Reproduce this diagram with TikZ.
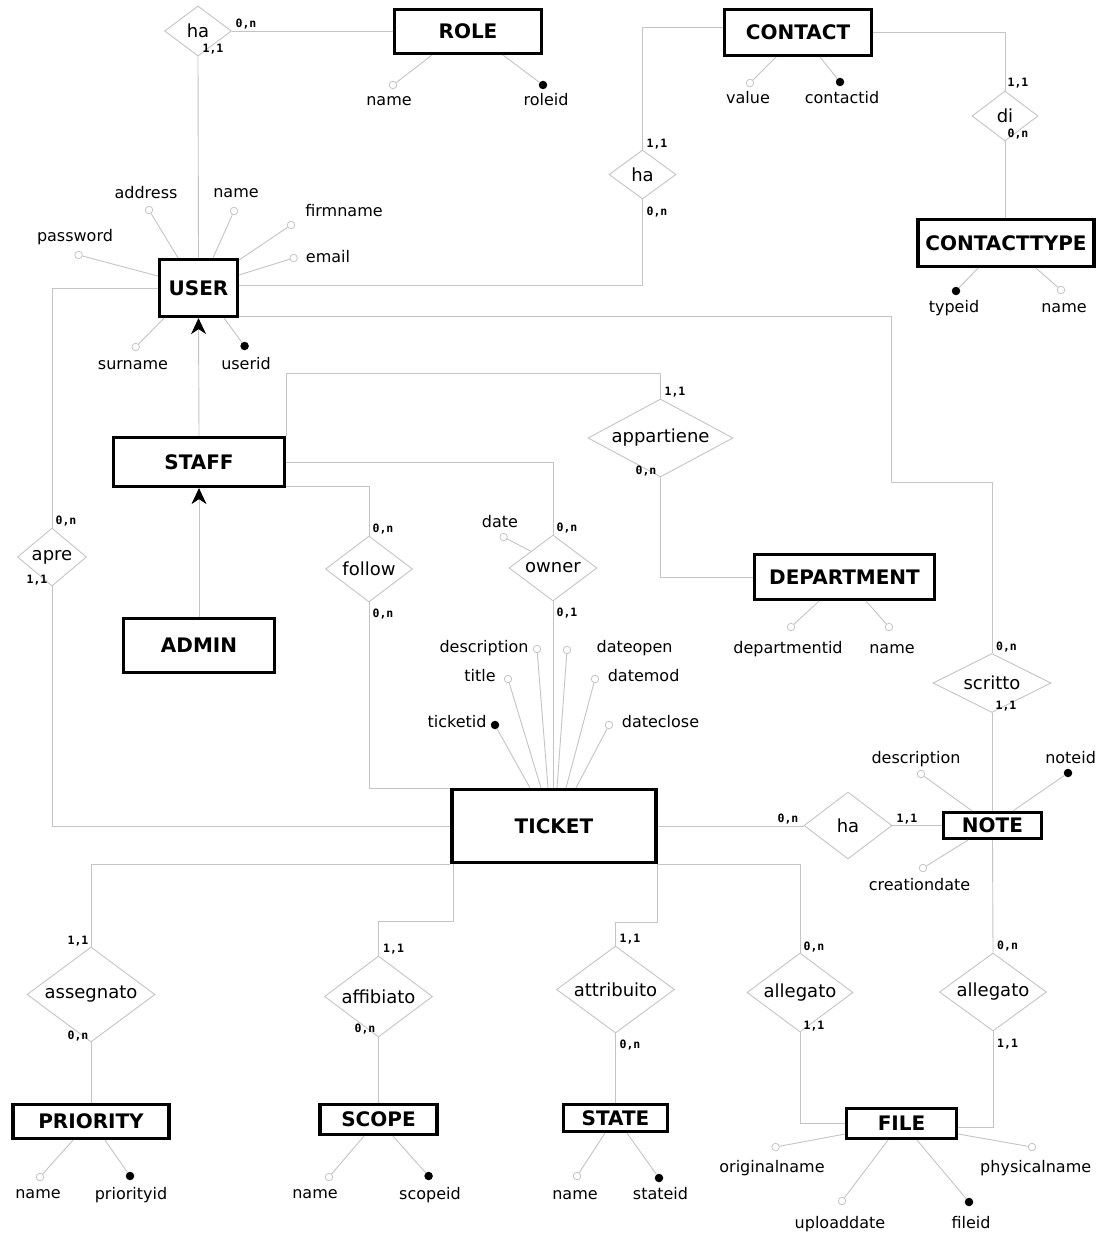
\documentclass[tikz,border=0pt]{standalone}
\usepackage{fontspec}
\setmainfont{DejaVu Sans}
\newfontfamily\cardfont{DejaVu Sans Mono}
\usetikzlibrary{shapes.geometric,arrows.meta}
\definecolor{lg}{RGB}{196,196,196}
\begin{document}
\begin{tikzpicture}[x=1pt,y=-1pt,
 ent/.style={draw=black,line width=3.2pt,fill=white,inner sep=0pt,font=\fontsize{20}{24}\selectfont\bfseries},
 rel/.style={diamond,draw=lg,line width=0.9pt,fill=white,inner sep=0pt,font=\fontsize{18}{22}\selectfont},
 ln/.style={draw=lg,line width=0.9pt},
 oat/.style={circle,draw=lg,fill=white,line width=0.8pt,inner sep=0pt,minimum size=7.5pt},
 kat/.style={circle,fill=black,inner sep=0pt,minimum size=8.5pt},
 lbl/.style={inner sep=0pt,anchor=base,font=\fontsize{16}{19}\selectfont},
 crd/.style={inner sep=0pt,anchor=base,font=\cardfont\bfseries\fontsize{11.5}{13}\selectfont},
 isa/.style={ln,-{Stealth[length=16pt,width=15pt,inset=5pt,color=black]}}
]
\fill[white] (0,0) rectangle (1104,1236);
\useasboundingbox (0,0) rectangle (1104,1236);

% ---------- entities
\node[ent,minimum width=147,minimum height=44] (role) at (468,31.5) {ROLE};
\node[ent,minimum width=147,minimum height=46] (contact) at (798,32.5) {CONTACT};
\node[ent,minimum width=176,minimum height=47] (ctype) at (1006,243) {CONTACTTYPE};
\node[ent,minimum width=78,minimum height=57] (user) at (198.5,288) {USER};
\node[ent,minimum width=171,minimum height=49] (staff) at (199,462) {STAFF};
\node[ent,minimum width=151,minimum height=54] (admin) at (199,645.5) {ADMIN};
\node[ent,minimum width=180,minimum height=45] (dept) at (844.5,577) {DEPARTMENT};
\node[ent,minimum width=204,minimum height=73] (ticket) at (554,826) {TICKET};
\node[ent,minimum width=98,minimum height=26] (note) at (992.5,825.5) {NOTE};
\node[ent,minimum width=156,minimum height=34] (priority) at (91,1121.5) {PRIORITY};
\node[ent,minimum width=117,minimum height=30] (scope) at (378.5,1119.5) {SCOPE};
\node[ent,minimum width=104,minimum height=27] (state) at (615.5,1118) {STATE};
\node[ent,minimum width=110,minimum height=30] (file) at (901.5,1123.5) {FILE};

% ---------- relationships
\node[rel,minimum width=67,minimum height=50,aspect=1.34] (roleha) at (198,31) {ha};
\node[rel,minimum width=67,minimum height=49,aspect=1.37] (contactha) at (642.5,174.5) {ha};
\node[rel,minimum width=66,minimum height=50,aspect=1.32] (di) at (1005,116) {di};
\node[rel,minimum width=69,minimum height=58,aspect=1.19] (apre) at (52,557) {apre};
\node[rel,minimum width=87,minimum height=66,aspect=1.32] (follow) at (369,569) {follow};
\node[rel,minimum width=88,minimum height=66,aspect=1.33] (owner) at (553,568) {owner};
\node[rel,minimum width=145,minimum height=78,aspect=1.86] (appartiene) at (660.5,438) {appartiene};
\node[rel,minimum width=118,minimum height=59,aspect=2] (scritto) at (992,683) {scritto};
\node[rel,minimum width=88,minimum height=67,aspect=1.31] (noteha) at (848,825.5) {ha};
\node[rel,minimum width=106,minimum height=79,aspect=1.34] (allegatoA) at (800,992.5) {allegato};
\node[rel,minimum width=107,minimum height=78,aspect=1.37] (allegatoB) at (993,992) {allegato};
\node[rel,minimum width=118,minimum height=87,aspect=1.36] (attribuito) at (615.5,989.5) {attribuito};
\node[rel,minimum width=108,minimum height=81,aspect=1.33] (affibiato) at (378.5,996.5) {affibiato};
\node[rel,minimum width=128,minimum height=95,aspect=1.35] (assegnato) at (91,994.5) {assegnato};

% ---------- relationship connectors
\draw[ln] (roleha.east) -- (roleha.east -| role.west);
\draw[ln] (roleha.south) -- (user.north);
\draw[ln] ([yshift=5pt]contact.west) -| (contactha.north);
\draw[ln] (contactha.south) |- ([yshift=3pt]user.east);
\draw[ln] (contact.east) -| (di.north);
\draw[ln] (di.south) -- (di.south |- ctype.north);
\coordinate (bendA) at (891,482);
\draw[ln] ([yshift=2pt]user.south east) -| (bendA) -| (scritto.north);
\draw[ln] (user.west) -| (apre.north);
\draw[ln] (apre.south) |- (ticket.west);
\draw[isa] (staff.north) -- (user.south);
\draw[isa] (admin.north) -- (staff.south);
\draw[ln] (staff.north east) |- ([yshift=25pt]appartiene.north) -- (appartiene.north);
\draw[ln] (appartiene.south) |- (dept.west);
\draw[ln] (staff.east) -| (owner.north);
\draw[ln] ([yshift=1.5pt]staff.south east) -| (follow.north);
\draw[ln] (follow.south) |- ([yshift=-1pt]ticket.north west);
\draw[ln] (owner.south) -- (owner.south |- ticket.north);
\draw[ln] (ticket.east) -- (ticket.east -| noteha.west);
\draw[ln] (noteha.east) -- (noteha.east -| note.west);
\draw[ln] (scritto.south) -- (scritto.south |- note.north);
\draw[ln] (note.south) -- (allegatoB.north);
\draw[ln] (allegatoB.south) |- ([yshift=-3.5pt]file.east);
\draw[ln] (ticket.south east) -| (allegatoA.north);
\draw[ln] (allegatoA.south) |- (file.west);
\draw[ln] (ticket.south east) -- ++(0,58) -| (attribuito.north);
\draw[ln] ([xshift=3pt]ticket.south west) -- ++(0,57) -| (affibiato.north);
\draw[ln] (ticket.south west) -| (assegnato.north);
\draw[ln] (assegnato.south) -- (priority.north);
\draw[ln] (affibiato.south) -- (scope.north);
\draw[ln] (attribuito.south) -- (state.north);

% ---------- cardinalities
\node[crd] (k1) at (246,28) {0,n};
\node[crd] (k2) at (213,53) {1,1};
\node[crd] (k3) at (657,147) {1,1};
\node[crd] (k4) at (657,215) {0,n};
\node[crd] (k5) at (1018,87) {1,1};
\node[crd] (k6) at (1018,137) {0,n};
\node[crd] (k7) at (66,524) {0,n};
\node[crd] (k8) at (37,583) {1,1};
\node[crd] (k9) at (383,532) {0,n};
\node[crd] (k10) at (383,617) {0,n};
\node[crd] (k11) at (567,531) {0,n};
\node[crd] (k12) at (567,616) {0,1};
\node[crd] (k13) at (675,395) {1,1};
\node[crd] (k14) at (646,474) {0,n};
\node[crd] (k15) at (1006.5,650) {0,n};
\node[crd] (k16) at (1006,709) {1,1};
\node[crd] (k17) at (788,822) {0,n};
\node[crd] (k18) at (907,822) {1,1};
\node[crd] (k19) at (814,950) {0,n};
\node[crd] (k20) at (814,1029) {1,1};
\node[crd] (k21) at (1007.6,949) {0,n};
\node[crd] (k22) at (1007.6,1047) {1,1};
\node[crd] (k23) at (630,942) {1,1};
\node[crd] (k24) at (630,1048) {0,n};
\node[crd] (k25) at (393.6,952) {1,1};
\node[crd] (k26) at (365,1032) {0,n};
\node[crd] (k27) at (78,944) {1,1};
\node[crd] (k28) at (78,1039) {0,n};

% ---------- attributes: ROLE
\node[oat] (roleName) at (393,85) {};
\node[lbl] (roleNameL) at (389,105.5) {name};
\draw[ln] ([xshift=-36pt]role.south) -- (roleName);
\node[kat] (roleId) at (543,85) {};
\node[lbl] (roleIdL) at (546,105.5) {roleid};
\draw[ln] ([xshift=35pt]role.south) -- (roleId);

% CONTACT
\node[oat] (cVal) at (750,83) {};
\node[lbl] (cValL) at (748,103.5) {value};
\draw[ln] ([xshift=-22pt]contact.south) -- (cVal);
\node[kat] (cId) at (840,82) {};
\node[lbl] (cIdL) at (842,103.5) {contactid};
\draw[ln] ([xshift=22pt]contact.south) -- (cId);

% CONTACTTYPE
\node[kat] (tId) at (956,291) {};
\node[lbl] (tIdL) at (954,312.5) {typeid};
\draw[ln] ([xshift=-28pt]ctype.south) -- (tId);
\node[oat] (tName) at (1061,290) {};
\node[lbl] (tNameL) at (1064,312.5) {name};
\draw[ln] ([xshift=30pt]ctype.south) -- (tName);

% USER
\node[oat] (uPass) at (78.6,255) {};
\node[lbl] (uPassL) at (75,241.5) {password};
\draw[ln] ([yshift=12pt]user.west) -- (uPass);
\node[oat] (uAddr) at (149,210) {};
\node[lbl] (uAddrL) at (146,198.5) {address};
\draw[ln] ([xshift=-20.5pt]user.north) -- (uAddr);
\node[oat] (uName) at (234,211) {};
\node[lbl] (uNameL) at (236,197.5) {name};
\draw[ln] ([xshift=14.5pt]user.north) -- (uName);
\node[oat] (uFirm) at (291,225) {};
\node[lbl] (uFirmL) at (344,216.5) {firmname};
\draw[ln] ([yshift=28pt]user.east) -- (uFirm);
\node[oat] (uMail) at (293.6,258) {};
\node[lbl] (uMailL) at (328,262.5) {email};
\draw[ln] ([yshift=13pt]user.east) -- (uMail);
\node[oat] (uSur) at (135.7,347) {};
\node[lbl] (uSurL) at (133,369.5) {surname};
\draw[ln] ([xshift=-34.5pt]user.south) -- (uSur);
\node[kat] (uId) at (244.6,346) {};
\node[lbl] (uIdL) at (246,369.5) {userid};
\draw[ln] ([xshift=25.5pt]user.south) -- (uId);

% DEPARTMENT
\node[oat] (dId) at (791,627) {};
\node[lbl] (dIdL) at (788,653.5) {departmentid};
\draw[ln] ([xshift=-25.5pt]dept.south) -- (dId);
\node[oat] (dName) at (889,627) {};
\node[lbl] (dNameL) at (892,653.5) {name};
\draw[ln] ([xshift=21.5pt]dept.south) -- (dName);

% owner
\node[oat] (dateC) at (503.6,537) {};
\node[lbl] (dateL) at (500,527.5) {date};
\draw[ln] (dateC) -- (owner.north west);

% TICKET
\node[kat] (tkId) at (495,725) {};
\node[lbl] (tkIdL) at (457,727.5) {ticketid};
\draw[ln] ([xshift=-24pt]ticket.north) -- (tkId);
\node[oat] (tkTitle) at (508,679) {};
\node[lbl] (tkTitleL) at (480,681.5) {title};
\draw[ln] ([xshift=-13pt]ticket.north) -- (tkTitle);
\node[oat] (tkDesc) at (537,649) {};
\node[lbl] (tkDescL) at (484,652.5) {description};
\draw[ln] ([xshift=-6pt]ticket.north) -- (tkDesc);
\node[oat] (tkOpen) at (567,650) {};
\node[lbl] (tkOpenL) at (634.6,652.5) {dateopen};
\draw[ln] ([xshift=3pt]ticket.north) -- (tkOpen);
\node[oat] (tkMod) at (595,679) {};
\node[lbl] (tkModL) at (643.6,681.5) {datemod};
\draw[ln] ([xshift=12pt]ticket.north) -- (tkMod);
\node[oat] (tkClose) at (609,725) {};
\node[lbl] (tkCloseL) at (660.5,727.5) {dateclose};
\draw[ln] ([xshift=22pt]ticket.north) -- (tkClose);

% NOTE
\node[oat] (nDesc) at (921,774) {};
\node[lbl] (nDescL) at (916,763.5) {description};
\draw[ln] ([xshift=-20.5pt]note.north) -- (nDesc);
\node[kat] (nId) at (1068,773) {};
\node[lbl] (nIdL) at (1070.6,763.5) {noteid};
\draw[ln] ([xshift=20.5pt]note.north) -- (nId);
\node[oat] (nCre) at (923,868) {};
\node[lbl] (nCreL) at (919.5,890.5) {creationdate};
\draw[ln] ([xshift=-24.5pt]note.south) -- (nCre);

% PRIORITY
\node[oat] (pName) at (40,1177) {};
\node[lbl] (pNameL) at (38,1198.5) {name};
\draw[ln] ([xshift=-18pt]priority.south) -- (pName);
\node[kat] (pId) at (130,1176) {};
\node[lbl] (pIdL) at (131,1199.5) {priorityid};
\draw[ln] ([xshift=14pt]priority.south) -- (pId);

% SCOPE
\node[oat] (sName) at (329,1177) {};
\node[lbl] (sNameL) at (315,1198.5) {name};
\draw[ln] ([xshift=-14.5pt]scope.south) -- (sName);
\node[kat] (sId) at (428.6,1176) {};
\node[lbl] (sIdL) at (430,1199.5) {scopeid};
\draw[ln] ([xshift=14.5pt]scope.south) -- (sId);

% STATE
\node[oat] (stName) at (577,1176) {};
\node[lbl] (stNameL) at (575,1199.5) {name};
\draw[ln] ([xshift=-10.5pt]state.south) -- (stName);
\node[kat] (stId) at (659,1178) {};
\node[lbl] (stIdL) at (660.5,1199.5) {stateid};
\draw[ln] ([xshift=11.5pt]state.south) -- (stId);

% FILE
\node[oat] (fOrig) at (775.6,1147) {};
\node[lbl] (fOrigL) at (772,1172.5) {originalname};
\draw[ln] ([yshift=-10.5pt]file.west) -- (fOrig);
\node[oat] (fPhys) at (1032,1147) {};
\node[lbl] (fPhysL) at (1035.7,1172.5) {physicalname};
\draw[ln] ([yshift=-10.5pt]file.east) -- (fPhys);
\node[oat] (fUp) at (842,1201) {};
\node[lbl] (fUpL) at (840,1228.5) {uploaddate};
\draw[ln] ([xshift=-13.5pt]file.south) -- (fUp);
\node[kat] (fId) at (969,1202) {};
\node[lbl] (fIdL) at (971,1228.5) {fileid};
\draw[ln] ([xshift=15.5pt]file.south) -- (fId);
\end{tikzpicture}
\end{document}
